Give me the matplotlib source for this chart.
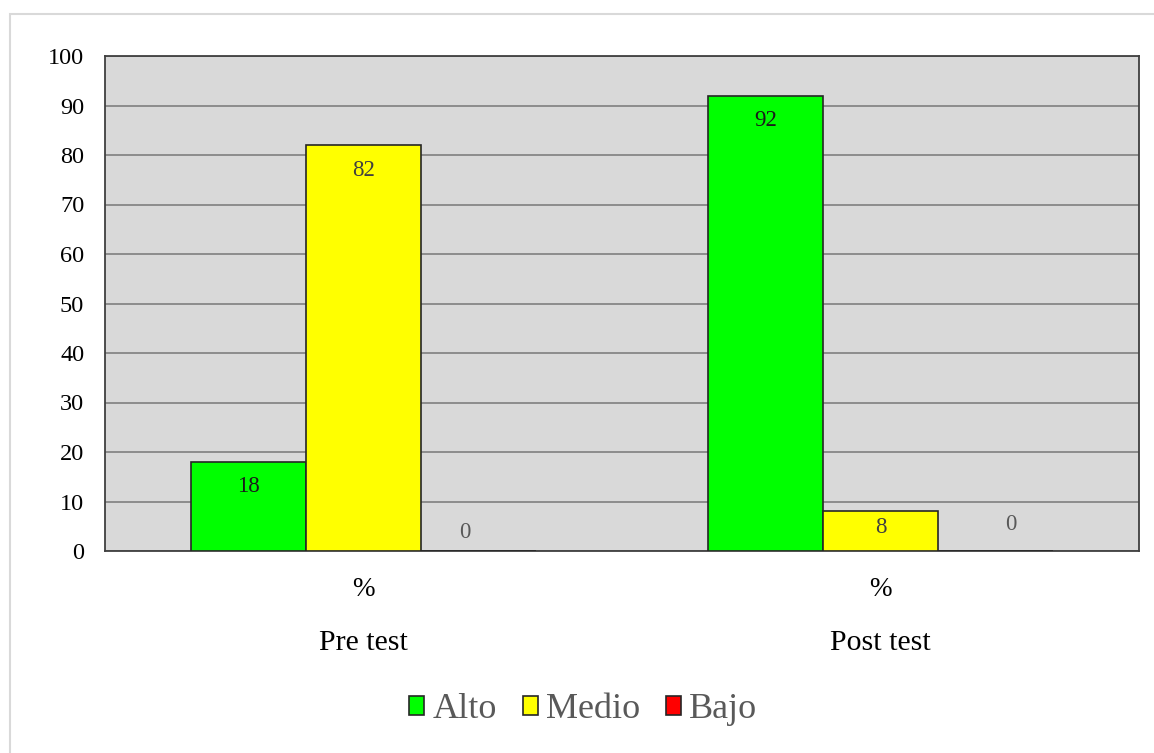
import matplotlib
matplotlib.use("Agg")
import matplotlib.pyplot as plt
import numpy as np
from matplotlib.patches import Rectangle

# data
groups = ["Pre test", "Post test"]
unit_labels = ["%", "%"]
series_names = ["Alto", "Medio", "Bajo"]
alto = [18, 92]
medio = [82, 8]
bajo = [0, 0]

colors = ["#00FF00", "#FFFF00", "#FF0000"]
label_colors = ["#1a1a1a", "#404040", "#595959"]
# where the zero labels sit relative to their (empty) bar, in pixels
zero_nudge = [(-14, 18), (15, 26)]

plt.rcParams["font.family"] = ["Liberation Serif", "DejaVu Serif"]

fig = plt.figure(figsize=(11.54, 7.53), dpi=100)

# light outer frame of the chart object
fig.patches.append(Rectangle((10 / 1154, -0.05), 1.2, (753 - 14) / 753 + 0.05,
                             transform=fig.transFigure, fill=False,
                             edgecolor="#d9d9d9", linewidth=1.5, zorder=0))

ax = fig.add_axes([105 / 1154, 1 - 551 / 753, (1139 - 105) / 1154, (551 - 56) / 753])
ax.set_facecolor("#D9D9D9")

x = np.arange(len(groups))
width = 1 / 4.5
values = [alto, medio, bajo]

for i, (name, vals) in enumerate(zip(series_names, values)):
    pos = x + (i - 1) * width
    bars = ax.bar(pos, vals, width, color=colors[i], edgecolor="#262626",
                  linewidth=1.2, label=name, zorder=3)
    for j, (b, v) in enumerate(zip(bars, vals)):
        cx = b.get_x() + b.get_width() / 2
        dx = 0
        if v >= 15:
            off = -25
        elif v > 0:
            off = -16
        else:
            dx, off = zero_nudge[j]
        ax.annotate(str(v), (cx, v), xytext=(dx, off), textcoords="offset pixels",
                    ha="center", va="center", fontsize=16.5,
                    color=label_colors[i], zorder=4)

ax.set_xlim(-0.5, 1.5)
ax.set_ylim(0, 100)
ax.set_yticks(range(0, 101, 10))
ax.tick_params(axis="y", length=0, pad=15, labelsize=17.5)
ax.set_xticks([])
ax.yaxis.grid(True, color="#808080", linewidth=1.2, zorder=0)
ax.set_axisbelow(True)
for s in ax.spines.values():
    s.set_color("#404040")
    s.set_linewidth(1.3)

tr = ax.get_xaxis_transform()
for xi, u, g in zip(x, unit_labels, groups):
    ax.text(xi, -0.077, u, transform=tr, ha="center", va="center", fontsize=19.5)
    ax.text(xi, -0.185, g, transform=tr, ha="center", va="center", fontsize=21.5)

leg = fig.legend(loc="center", bbox_to_anchor=(583 / 1154, 1 - 710 / 753), ncol=3,
                 frameon=False, fontsize=26, handlelength=0.42, handleheight=0.42,
                 handletextpad=0.22, columnspacing=0.72, labelcolor="#595959")

fig.savefig("out.png", dpi=100)
